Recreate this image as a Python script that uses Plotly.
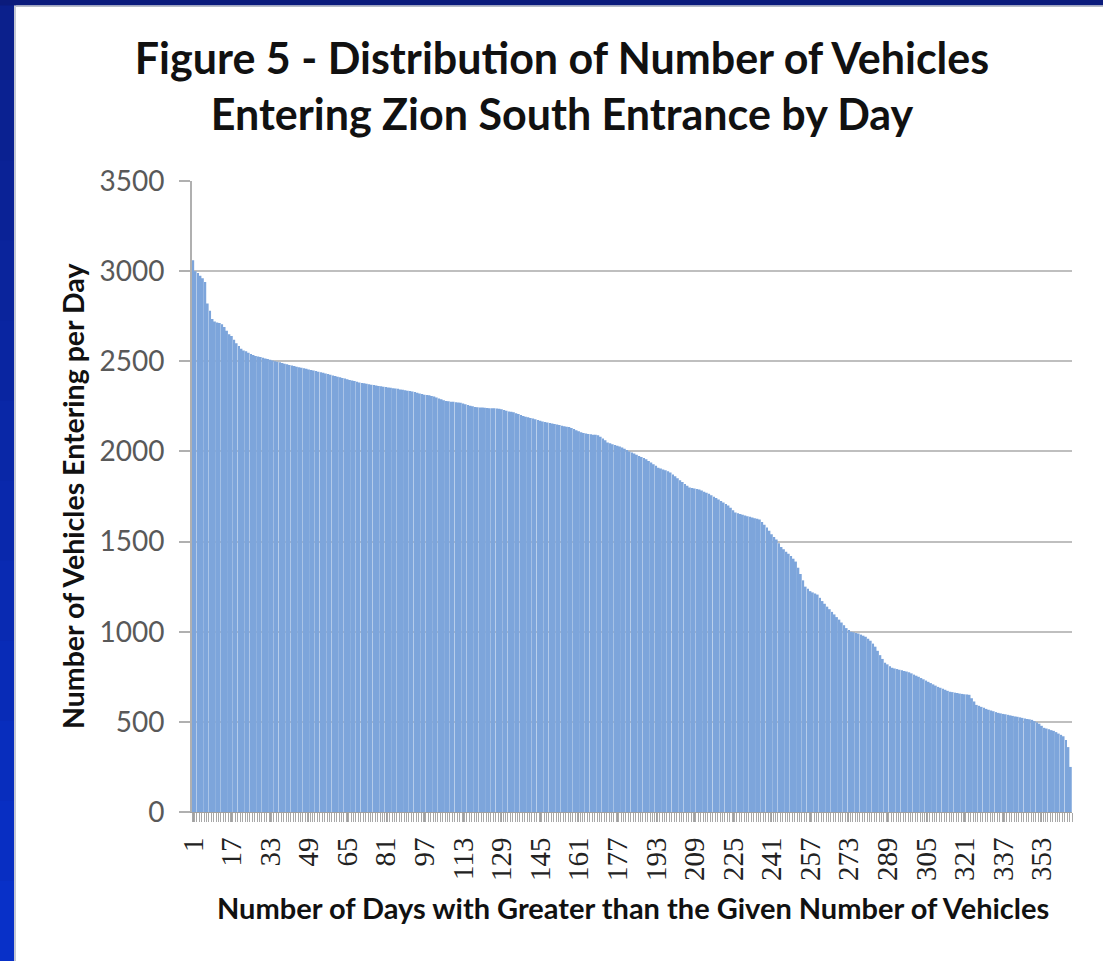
import plotly.graph_objects as go

# ---- data ----
vehicles = [
    3060, 3000, 2990, 2975, 2960, 2940, 2820, 2780, 2735, 2720,
    2715, 2712, 2705, 2690, 2670, 2650, 2640, 2620, 2600, 2585,
    2570, 2560, 2555, 2548, 2540, 2535, 2530, 2527, 2524, 2520,
    2516, 2512, 2508, 2504, 2500, 2497, 2494, 2490, 2487, 2484,
    2480, 2477, 2474, 2470, 2467, 2464, 2461, 2458, 2455, 2452,
    2449, 2446, 2442, 2439, 2436, 2432, 2429, 2425, 2421, 2418,
    2414, 2411, 2407, 2404, 2400, 2396, 2393, 2390, 2386, 2383,
    2380, 2378, 2375, 2373, 2370, 2368, 2366, 2363, 2361, 2359,
    2357, 2355, 2353, 2351, 2349, 2347, 2344, 2342, 2339, 2337,
    2335, 2333, 2330, 2326, 2322, 2318, 2315, 2313, 2311, 2308,
    2304, 2299, 2294, 2289, 2284, 2280, 2278, 2276, 2275, 2273,
    2271, 2270, 2266, 2262, 2258, 2254, 2250, 2247, 2245, 2244,
    2243, 2242, 2241, 2240, 2240, 2239, 2238, 2237, 2234, 2230,
    2226, 2222, 2220, 2217, 2212, 2207, 2202, 2197, 2193, 2190,
    2186, 2182, 2178, 2174, 2170, 2166, 2163, 2161, 2158, 2155,
    2152, 2149, 2146, 2143, 2140, 2137, 2135, 2130, 2124, 2118,
    2112, 2106, 2102, 2099, 2097, 2095, 2093, 2092, 2090, 2082,
    2072, 2062, 2050, 2045, 2040, 2036, 2032, 2028, 2022, 2015,
    2008, 2000, 1994, 1988, 1981, 1975, 1969, 1963, 1956, 1947,
    1938, 1929, 1920, 1910, 1905, 1900, 1895, 1890, 1883, 1872,
    1862, 1851, 1840, 1830, 1820, 1810, 1800, 1797, 1794, 1791,
    1789, 1783, 1777, 1771, 1765, 1757, 1749, 1741, 1733, 1725,
    1717, 1708, 1700, 1687, 1674, 1661, 1657, 1653, 1649, 1645,
    1641, 1637, 1633, 1629, 1626, 1622, 1608, 1593, 1578, 1560,
    1540, 1525, 1511, 1490, 1470, 1457, 1444, 1432, 1420, 1405,
    1389, 1355, 1320, 1285, 1250, 1238, 1225, 1218, 1212, 1206,
    1188, 1170, 1155, 1139, 1125, 1110, 1096, 1081, 1067, 1051,
    1036, 1020, 1010, 1000, 997, 993, 990, 984, 978, 972,
    961, 950, 934, 917, 894, 870, 849, 828, 819, 809,
    800, 796, 793, 789, 786, 782, 779, 775, 769, 762,
    756, 750, 743, 736, 729, 722, 715, 708, 701, 694,
    689, 683, 678, 672, 667, 665, 662, 660, 657, 655,
    653, 652, 650, 631, 613, 594, 589, 583, 578, 572,
    567, 563, 559, 554, 550, 547, 544, 542, 539, 536,
    533, 530, 528, 525, 522, 519, 516, 514, 511, 504,
    497, 490, 478, 467, 463, 459, 454, 450, 443, 435,
    428, 420, 400, 360, 250,
]
days = list(range(1, len(vehicles) + 1))
x_tick_vals = list(range(1, 354, 16))
y_tick_vals = [0, 500, 1000, 1500, 2000, 2500, 3000, 3500]

title_text = ("Figure 5 - Distribution of Number of Vehicles<br>"
              "Entering Zion South Entrance by Day")
x_title = "Number of Days with Greater than the Given Number of Vehicles"
y_title = "Number of Vehicles Entering per Day"

W, H = 1103, 961
ML, MR, MT, MB = 192, 31, 181, 149
PW, PH = W - ML - MR, H - MT - MB

def px_x(p):
    return (p - ML) / PW

def px_y(p):
    return 1 - (p - MT) / PH

SANS = "Lato, Open Sans, sans-serif"

fig = go.Figure()
fig.add_trace(go.Bar(
    x=days, y=vehicles,
    marker=dict(color="#7da5db", line=dict(width=0)),
    hoverinfo="x+y",
))

shapes = []
# left blue band with vertical gradient
n_seg = 12
for i in range(n_seg):
    y0p = H * i / n_seg
    y1p = H * (i + 1) / n_seg + 2
    t = i / (n_seg - 1)
    r = int(11 + (8 - 11) * t)
    g = int(32 + (48 - 32) * t)
    b = int(140 + (200 - 140) * t)
    shapes.append(dict(type="rect", xref="paper", yref="paper",
                       x0=px_x(-2), x1=px_x(14), y0=px_y(y1p), y1=px_y(y0p),
                       fillcolor=f"rgb({r},{g},{b})", line=dict(width=0),
                       layer="above"))
shapes.append(dict(type="rect", xref="paper", yref="paper",
                   x0=px_x(14), x1=px_x(16), y0=px_y(H + 2), y1=px_y(5.5),
                   fillcolor="#c4c8d4", line=dict(width=0), layer="above"))
# top dark band
shapes.append(dict(type="rect", xref="paper", yref="paper",
                   x0=px_x(-2), x1=px_x(W + 2), y0=px_y(5.5), y1=px_y(-2),
                   fillcolor="#0b1b7c", line=dict(width=0), layer="above"))
shapes.append(dict(type="rect", xref="paper", yref="paper",
                   x0=px_x(16), x1=px_x(W + 2), y0=px_y(7), y1=px_y(5.5),
                   fillcolor="#b8bcc8", line=dict(width=0), layer="above"))

annotations = [
    dict(text=y_title, xref="paper", yref="paper", x=px_x(73), y=px_y(496),
         xanchor="center", yanchor="middle", textangle=-90, showarrow=False,
         font=dict(family=SANS, size=28.5, color="#111111", weight="bold")),
    dict(text=x_title, xref="paper", yref="paper", x=px_x(633), y=px_y(908),
         xanchor="center", yanchor="middle", showarrow=False,
         font=dict(family=SANS, size=29, color="#111111", weight="bold")),
]

fig.update_layout(
    width=W, height=H,
    margin=dict(l=ML, r=MR, t=MT, b=MB, autoexpand=False),
    paper_bgcolor="white", plot_bgcolor="white",
    bargap=0.2,
    showlegend=False,
    shapes=shapes,
    annotations=annotations,
    title=dict(text=title_text, x=562 / W, xref="container", xanchor="center",
               y=1 - 74 / H, yref="container", yanchor="top",
               font=dict(family=SANS, size=43, color="#111111",
                         weight="bold")),
    xaxis=dict(
        automargin=False,
        range=[0.5, len(vehicles) + 0.5],
        tickmode="array", tickvals=x_tick_vals,
        ticktext=[str(v) for v in x_tick_vals],
        tickangle=-90,
        tickfont=dict(family="Liberation Serif, DejaVu Serif, serif",
                      size=29, color="#222222"),
        ticklabelstandoff=4,
        ticks="outside", ticklen=9, tickcolor="#a0a0a0", tickwidth=1,
        minor=dict(ticks="outside", dtick=1, tick0=0.5, ticklen=9,
                   tickcolor="#a8a8a8", tickwidth=1),
        showline=True, linecolor="#a0a0a0", linewidth=1,
        showgrid=False, zeroline=False,
    ),
    yaxis=dict(
        automargin=False,
        range=[0, 3500],
        tickmode="array", tickvals=y_tick_vals,
        tickfont=dict(family=SANS, size=28, color="#595959"),
        ticklabelstandoff=9,
        ticks="outside", ticklen=11, tickcolor="#b0b0b0", tickwidth=2,
        showline=True, linecolor="#b0b0b0", linewidth=2,
        showgrid=True, gridcolor="#bfbfbf", gridwidth=2,
        zeroline=False,
    ),
)

fig.write_html("out.html",
               config={"displayModeBar": False},
               post_script="document.body.style.margin='0';"
                           "document.body.style.overflow='hidden';")
